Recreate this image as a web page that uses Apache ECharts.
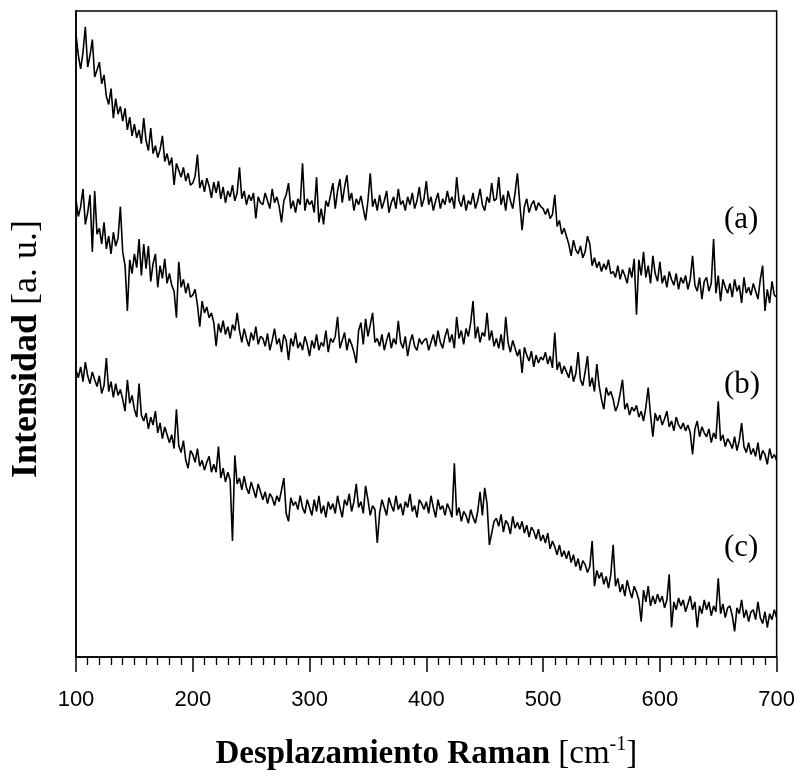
<!DOCTYPE html>
<html>
<head>
<meta charset="utf-8">
<script src="https://cdn.jsdelivr.net/npm/echarts@6/dist/echarts.min.js"></script>
<style>html,body{margin:0;padding:0;background:#fff}#c{width:798px;height:776px}</style>
</head>
<body>
<div id="c"></div>
<script>
// Raman shift sampling (cm^-1), every 2 cm^-1 from 100 to 700
const ramanShift = Array.from({length: 301}, (_, i) => 100 + 2 * i);
const xTicks = [100, 200, 300, 400, 500, 600, 700];
const seriesLabels = ['(a)', '(b)', '(c)'];

// Intensities (a.u.), one row = 20 cm^-1
const intensityA = [
633,612,598,615,641,600,612,628,590,597,
605,583,592,570,562,578,548,568,552,560,
545,558,536,549,530,542,528,536,522,548,
525,515,538,512,520,508,516,530,504,512,
500,508,480,502,495,488,498,484,492,480,
482,489,511,477,485,473,487,479,467,483,
472,484,466,478,462,474,468,480,464,472,
498,466,474,460,470,464,472,446,468,462,
460,472,464,456,476,462,468,458,442,464,
470,482,456,464,452,466,460,502,454,466,
460,464,452,488,442,456,440,464,458,470,
482,456,474,486,462,478,490,464,472,454,
466,460,469,456,444,464,492,458,466,454,
470,456,464,474,452,462,468,456,476,460,
464,454,468,460,472,456,464,478,458,466,
484,460,468,454,464,472,456,466,460,474,
462,468,456,488,464,458,470,454,464,460,
472,456,464,476,460,454,468,462,482,464,
466,488,460,470,454,474,464,456,472,492,
462,434,458,466,452,460,464,454,462,458,
456,450,456,446,450,470,438,444,430,436,
428,420,408,424,414,410,418,406,412,428,
420,398,406,396,402,392,400,394,404,390,
392,386,398,384,394,388,380,396,386,405,
348,404,388,412,386,398,380,408,390,382,
402,380,388,376,392,384,378,390,374,386,
380,388,374,384,408,378,372,386,364,382,
386,372,380,425,370,388,362,384,376,370,
380,366,384,372,378,360,386,370,376,368,
380,372,364,384,398,352,374,360,382,368,
366
];
const intensityB = [
465,448,458,476,440,452,470,412,474,430,
436,420,442,415,428,410,432,418,426,458,
412,398,352,404,390,410,396,425,388,420,
395,418,382,400,410,376,398,385,405,380,
390,378,372,345,402,376,384,370,380,366,
368,374,358,336,362,350,356,345,350,340,
316,339,330,342,328,336,324,338,332,350,
332,320,334,324,316,330,322,336,318,326,
324,316,329,312,322,334,318,324,310,328,
322,302,324,316,330,314,320,312,326,318,
306,322,314,328,312,320,316,332,310,324,
320,326,346,314,322,330,312,324,318,310,
299,332,340,318,344,326,338,350,320,324,
316,328,312,322,330,314,324,318,342,320,
314,326,306,320,328,316,312,324,318,322,
324,312,320,328,316,332,320,314,326,334,
320,328,314,346,324,332,318,334,326,340,
362,324,336,320,330,326,350,322,332,316,
324,314,328,312,346,320,310,322,314,306,
313,289,315,307,301,311,295,307,299,305,
302,310,298,306,294,330,292,300,288,296,
290,284,296,280,288,310,282,276,290,306,
275,284,270,298,276,262,252,274,266,270,
262,250,256,268,282,252,258,246,254,250,
256,244,250,240,254,274,246,224,248,240,
246,236,242,250,234,240,230,244,236,232,
238,230,236,228,206,232,240,224,234,228,
224,232,218,228,222,260,220,226,214,222,
218,212,224,210,220,238,214,208,218,206,
212,204,218,200,210,206,196,212,202,206,
200
];
const intensityC = [
292,284,295,280,300,286,278,290,282,275,
286,268,276,304,270,280,264,278,266,272,
262,250,282,258,266,252,244,278,246,240,
248,232,244,236,250,228,238,222,234,226,
218,226,212,252,215,208,220,200,192,210,
206,198,212,194,200,190,198,204,188,196,
188,214,182,192,178,188,180,118,205,176,
182,170,184,172,166,178,170,162,176,168,
160,168,156,166,162,154,164,158,170,182,
146,138,162,154,158,150,164,152,146,160,
152,144,160,148,164,146,154,142,158,150,
156,146,164,152,142,160,154,166,148,158,
176,152,158,146,174,160,144,154,150,116,
146,160,152,144,162,154,148,164,150,156,
144,158,152,166,148,154,142,160,156,150,
158,146,164,152,142,160,150,154,144,156,
150,142,197,144,152,138,148,144,136,150,
142,136,148,168,144,172,156,114,126,138,
141,133,145,127,139,135,125,143,131,137,
130,138,126,134,122,132,128,120,130,118,
124,116,126,110,118,112,104,114,102,108,
100,108,96,104,92,100,88,98,94,86,
92,118,72,88,80,86,74,82,70,84,
114,72,80,66,74,62,78,68,60,72,
66,58,36,68,56,72,52,62,54,64,
56,62,50,58,84,30,56,48,60,52,
58,46,54,62,48,56,30,52,44,58,
48,56,42,52,46,80,44,54,40,50,
52,42,26,50,44,58,40,48,36,46,
48,38,56,40,34,46,30,44,38,48,
40
];

const chart = echarts.init(document.getElementById('c'), null, {renderer: 'canvas'});
const pair = (ys) => ramanShift.map((x, i) => [x, ys[i]]);
const lineStyle = {color: '#000', width: 1.6};
const serif = 'Liberation Serif, Times New Roman, serif';

chart.setOption({
  animation: false,
  backgroundColor: '#fff',
  grid: {left: 76, right: 21, top: 11, bottom: 108, show: true, borderColor: '#000', borderWidth: 1.5, backgroundColor: 'transparent'},
  xAxis: {
    type: 'value', min: xTicks[0], max: xTicks[xTicks.length - 1], interval: 100,
    splitLine: {show: false},
    axisLine: {show: true, lineStyle: {color: '#000', width: 1.5}},
    axisTick: {show: true, inside: false, length: 15, lineStyle: {color: '#000', width: 1.5}},
    minorTick: {show: true, splitNumber: 10, length: 8, lineStyle: {color: '#000', width: 1.3}},
    axisLabel: {color: '#000', fontSize: 22, fontFamily: 'Liberation Sans, Arial, sans-serif', margin: 32},
    name: '{b|Desplazamiento Raman} {r|[cm}{sup|-1}{r|]}',
    nameLocation: 'middle', nameGap: 78,
    nameTextStyle: {
      color: '#000', fontFamily: serif, fontSize: 33,
      rich: {
        b: {fontFamily: serif, fontSize: 33, fontWeight: 'bold', color: '#000', lineHeight: 36, verticalAlign: 'bottom'},
        r: {fontFamily: serif, fontSize: 33, color: '#000', lineHeight: 36, verticalAlign: 'bottom'},
        sup: {fontFamily: serif, fontSize: 20, color: '#000', lineHeight: 36, verticalAlign: 'top'}
      }
    }
  },
  yAxis: {
    type: 'value', min: 0, max: 657,
    splitLine: {show: false},
    axisLine: {show: true, lineStyle: {color: '#000', width: 1.5}},
    axisTick: {show: false}, axisLabel: {show: false}
  },
  graphic: [
    {type: 'text', x: 27, y: 349, rotation: Math.PI / 2,
     style: {text: '{b|Intensidad} {r|[a. u.]}', align: 'center', verticalAlign: 'middle',
       fontFamily: serif, fontSize: 36, fill: '#000',
       rich: {
         b: {fontFamily: serif, fontSize: 36, fontWeight: 'bold', fill: '#000'},
         r: {fontFamily: serif, fontSize: 36, fill: '#000'}
       }}},
    {type: 'text', left: 724, top: 204, style: {text: seriesLabels[0], fontFamily: serif, fontSize: 31, fill: '#000'}},
    {type: 'text', left: 724, top: 369, style: {text: seriesLabels[1], fontFamily: serif, fontSize: 31, fill: '#000'}},
    {type: 'text', left: 724, top: 532, style: {text: seriesLabels[2], fontFamily: serif, fontSize: 31, fill: '#000'}}
  ],
  series: [
    {type: 'line', data: pair(intensityA), showSymbol: false, symbol: 'none', lineStyle, clip: true},
    {type: 'line', data: pair(intensityB), showSymbol: false, symbol: 'none', lineStyle, clip: true},
    {type: 'line', data: pair(intensityC), showSymbol: false, symbol: 'none', lineStyle, clip: true}
  ]
});
</script>
</body>
</html>
